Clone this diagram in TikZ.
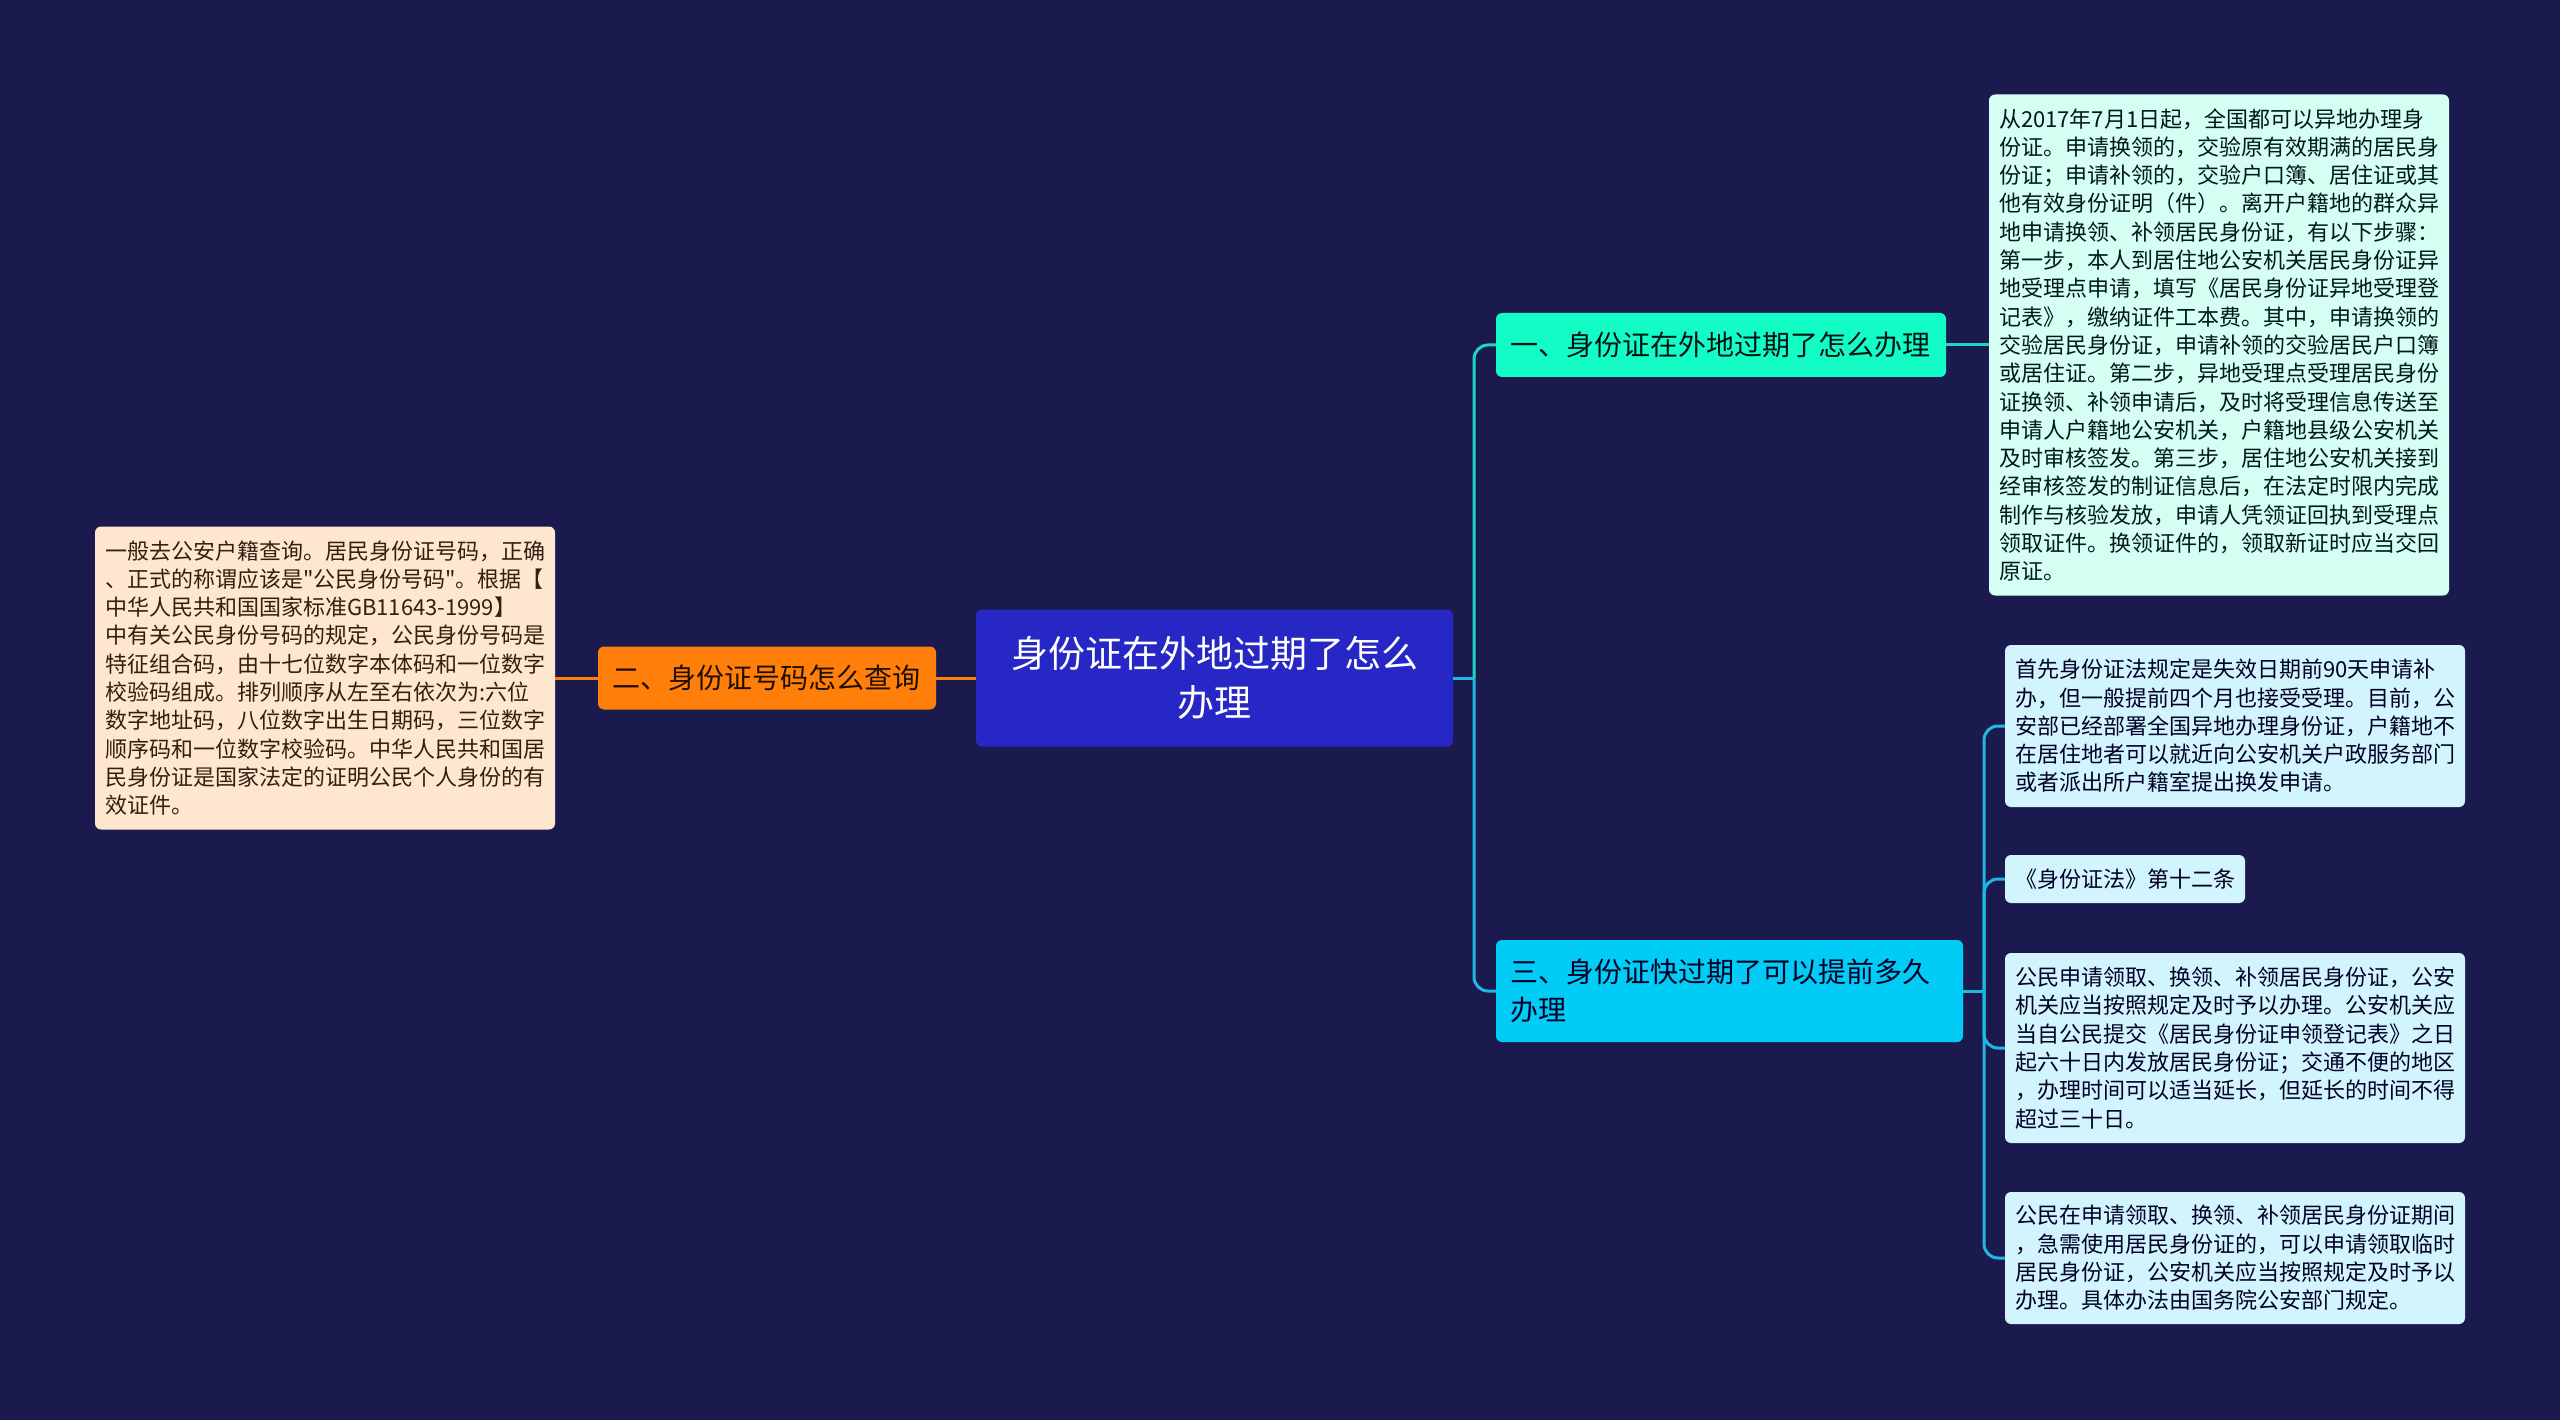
\documentclass[tikz,border=0pt]{standalone}
\usepackage{fontspec}
\setmainfont{Noto Sans CJK SC}[Ligatures=TeXOff]
\usepackage{tikz}
\definecolor{bgnavy}{HTML}{1B1A4F}
\definecolor{rootblue}{HTML}{2727C6}
\definecolor{qorange}{HTML}{FF7F0A}
\definecolor{qpeach}{HTML}{FFE6CE}
\definecolor{qaqua}{HTML}{14FCC6}
\definecolor{qmint}{HTML}{D6FFF4}
\definecolor{qcyan}{HTML}{00CCF5}
\definecolor{qice}{HTML}{D2F4FC}
\definecolor{linkaqua}{HTML}{1BD8C4}
\definecolor{linkcyan}{HTML}{1DB9E4}
\newcommand{\rootfont}{\fontsize{37}{49}\selectfont}
\newcommand{\topicfont}{\fontsize{28}{37.5}\selectfont}
\newcommand{\notefont}{\fontsize{22}{28.3}\selectfont}

\begin{document}
\begin{tikzpicture}[x=1pt,y=-1pt,
  rootnode/.style={fill=rootblue, rounded corners=6pt, text=white, font=\rootfont, align=center, minimum width=477pt, minimum height=137pt},
  topicnode/.style={rounded corners=6pt, font=\topicfont, align=left, inner xsep=14pt, inner ysep=6pt},
  notebox/.style={rounded corners=6pt, font=\notefont, align=left, inner xsep=10pt, inner ysep=10pt, text width=440pt},
  link/.style={line width=3pt}]
\useasboundingbox (0,0) rectangle (2560,1420);
\fill[bgnavy] (0,0) rectangle (2560,1420);

% centre and left side
\node[rootnode] (root) at (1214.5,678) {身份证在外地过期了怎么\\办理};
\node[topicnode, fill=qorange, text=black!80!orange!60!black, text width=310pt, minimum height=63pt] (q2) at (767,678) {二、身份证号码怎么查询};
\node[notebox, fill=qpeach, text=black!75!brown, minimum height=303pt] (q2note) at (325,678) {一般去公安户籍查询。居民身份证号码，正确\\、正式的称谓应该是"公民身份号码"。根据【\\中华人民共和国国家标准GB11643-1999】\\中有关公民身份号码的规定，公民身份号码是\\特征组合码，由十七位数字本体码和一位数字\\校验码组成。排列顺序从左至右依次为:六位\\数字地址码，八位数字出生日期码，三位数字\\顺序码和一位数字校验码。中华人民共和国居\\民身份证是国家法定的证明公民个人身份的有\\效证件。};

% right side
\node[topicnode, fill=qaqua, text=black!85!teal, text width=422pt, minimum height=64pt] (q1) at (1721,345) {一、身份证在外地过期了怎么办理};
\node[notebox, fill=qmint, text=black!80!teal, minimum height=501pt] (q1note) at (2219,345) {从2017年7月1日起，全国都可以异地办理身\\份证。申请换领的，交验原有效期满的居民身\\份证；申请补领的，交验户口簿、居住证或其\\他有效身份证明（件）。离开户籍地的群众异\\地申请换领、补领居民身份证，有以下步骤：\\第一步，本人到居住地公安机关居民身份证异\\地受理点申请，填写《居民身份证异地受理登\\记表》，缴纳证件工本费。其中，申请换领的\\交验居民身份证，申请补领的交验居民户口簿\\或居住证。第二步，异地受理点受理居民身份\\证换领、补领申请后，及时将受理信息传送至\\申请人户籍地公安机关，户籍地县级公安机关\\及时审核签发。第三步，居住地公安机关接到\\经审核签发的制证信息后，在法定时限内完成\\制作与核验发放，申请人凭领证回执到受理点\\领取证件。换领证件的，领取新证时应当交回\\原证。};

\node[topicnode, fill=qcyan, text=black!85!blue, text width=439pt, minimum height=102pt] (q3) at (1729.5,991) {三、身份证快过期了可以提前多久\\办理};
\node[notebox, fill=qice, text=black!85!blue, minimum height=162pt] (q3a) at (2235,726) {首先身份证法规定是失效日期前90天申请补\\办，但一般提前四个月也接受受理。目前，公\\安部已经部署全国异地办理身份证，户籍地不\\在居住地者可以就近向公安机关户政服务部门\\或者派出所户籍室提出换发申请。};
\node[notebox, fill=qice, text=black!85!blue, text width=220pt, minimum height=48pt, inner ysep=6pt] (q3b) at (2125,879) {《身份证法》第十二条};
\node[notebox, fill=qice, text=black!85!blue, minimum height=190pt] (q3c) at (2235,1048) {公民申请领取、换领、补领居民身份证，公安\\机关应当按照规定及时予以办理。公安机关应\\当自公民提交《居民身份证申领登记表》之日\\起六十日内发放居民身份证；交通不便的地区\\，办理时间可以适当延长，但延长的时间不得\\超过三十日。};
\node[notebox, fill=qice, text=black!85!blue, minimum height=132pt] (q3d) at (2235,1258) {公民在申请领取、换领、补领居民身份证期间\\，急需使用居民身份证的，可以申请领取临时\\居民身份证，公安机关应当按照规定及时予以\\办理。具体办法由国务院公安部门规定。};

% connectors
\coordinate (rj) at (1474,678);
\coordinate (q3j) at (1984,991);
\draw[link, qorange] (root.west) -- (q2.east);
\draw[link, qorange] (q2.west) -- (q2note.east);
\draw[link, linkcyan] (root.east) -- (rj);
\draw[link, linkaqua, rounded corners=14pt] (rj) |- (q1.west);
\draw[link, linkcyan, rounded corners=14pt] (rj) |- (q3.west);
\draw[link, linkaqua] (q1.east) -- (q1note.west);
\draw[link, linkcyan] (q3.east) -- (q3j);
\foreach \n in {q3a,q3b,q3c,q3d}
  \draw[link, linkcyan, rounded corners=14pt] (q3j) |- (\n.west);
\end{tikzpicture}
\end{document}
